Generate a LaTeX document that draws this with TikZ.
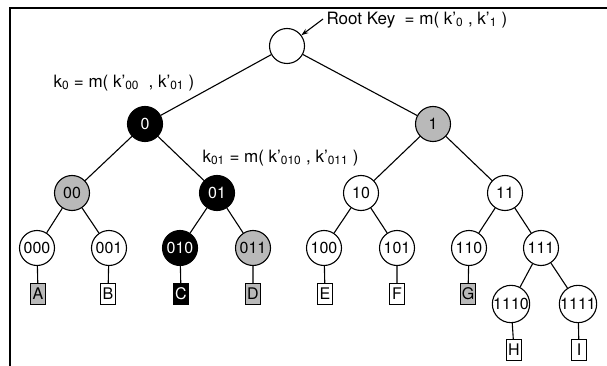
\documentclass[tikz,border=0pt]{standalone}
\usepackage{fontspec}
\setmainfont{TeX Gyre Heros}
\usetikzlibrary{arrows.meta}
\tikzset{
	key/.style={circle, draw, line width=1.1pt, minimum size=35pt, inner sep=0pt, font=\fontsize{16}{16}\selectfont},
	darkkey/.style={key, fill=black, text=white},
	greykey/.style={key, fill=gray!55},
	leaf/.style={rectangle, draw, line width=1.1pt, minimum width=15pt, minimum height=21pt, inner sep=1pt, font=\fontsize{16}{16}\selectfont},
	darkleaf/.style={leaf, fill=black, text=white},
	greyleaf/.style={leaf, fill=gray!55},
	lbl/.style={inner sep=0pt, font=\fontsize{17}{17}\selectfont}
}
\begin{document}
\begin{tikzpicture}[x=1pt, y=-1pt, line width=1.1pt]
	    		\useasboundingbox (0,0) rectangle (607,366);
	    		\draw[line width=1.6pt] (10,366)--(10,8)--(607,8);
	    		% keys
	    		\node[key] (root) at (287,46) {};
	    		\node[darkkey] (n0) at (145,124) {0};
	    		\node[greykey] (n1) at (433,124) {1};
	    		\node[greykey] (n00) at (72,193) {00};
	    		\node[darkkey] (n01) at (217,193) {01};
	    		\node[key] (n10) at (361,193) {10};
	    		\node[key] (n11) at (505,193) {11};
	    		\node[key] (n000) at (37,248) {000};
	    		\node[key] (n001) at (109,248) {001};
	    		\node[darkkey] (n010) at (180,248) {010};
	    		\node[greykey] (n011) at (253,248) {011};
	    		\node[key] (n100) at (324,248) {100};
	    		\node[key] (n101) at (397,248) {101};
	    		\node[key] (n110) at (469,248) {110};
	    		\node[key] (n111) at (541,248) {111};
	    		\node[key] (n1110) at (511,304) {1110};
	    		\node[key] (n1111) at (578,304) {1111};
	    		% members
	    		\node[greyleaf] (A) at (38,294) {A};
	    		\node[leaf] (B) at (108,294) {B};
	    		\node[darkleaf] (C) at (181,294) {C};
	    		\node[greyleaf] (D) at (253,294) {D};
	    		\node[leaf] (E) at (325,294) {E};
	    		\node[leaf] (F) at (397,294) {F};
	    		\node[greyleaf] (G) at (468,294) {G};
	    		\node[leaf] (H) at (514,350) {H};
	    		\node[leaf] (I) at (579,350) {I};
	    		% edges
	    		\draw (root)--(n0) (root)--(n1);
	    		\draw (n0)--(n00) (n0)--(n01) (n1)--(n10) (n1)--(n11);
	    		\draw (n00)--(n000) (n00)--(n001) (n01)--(n010) (n01)--(n011);
	    		\draw (n10)--(n100) (n10)--(n101) (n11)--(n110) (n11)--(n111);
	    		\draw (n111)--(n1110) (n111)--(n1111);
	    		\draw (n000)--(A) (n001)--(B) (n010)--(C) (n011)--(D);
	    		\draw (n100)--(E) (n101)--(F) (n110)--(G) (n1110)--(H) (n1111)--(I);
	    		% labels
	    		\node[lbl, anchor=west] (rootkey) at (326,20) {Root Key\ \ = m( k'\textsubscript{0} , k'\textsubscript{1} )};
	    		\node[lbl, anchor=west] (k0) at (53,83) {k\textsubscript{0} = m( k'\textsubscript{00}\ \ , k'\textsubscript{01} )};
	    		\node[lbl, anchor=west] (k01) at (202,158) {k\textsubscript{01} = m( k'\textsubscript{010} , k'\textsubscript{011} )};
	    		\draw[-{Stealth[length=7pt, width=5pt]}] ([xshift=-3pt, yshift=1pt]rootkey.west)--(root);
	    	\end{tikzpicture}
\end{document}
